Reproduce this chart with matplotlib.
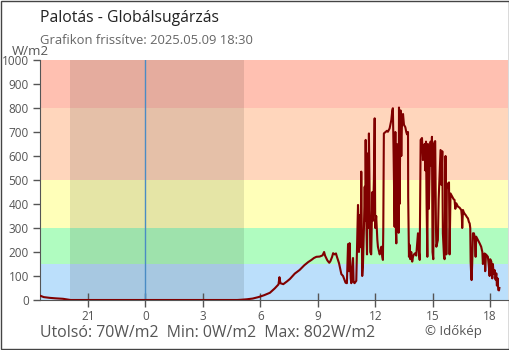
import matplotlib
matplotlib.use("Agg")
import matplotlib.pyplot as plt
from matplotlib.patches import Rectangle

plt.rcParams['font.family'] = ['Open Sans', 'DejaVu Sans']

# hours relative to midnight of 2025.05.09 (negative = previous evening)
hours = [-5.5, -5.3, -5.0, -4.7, -4.3, -4.0, -3.9, 4.8, 5.0, 5.3, 5.6, 5.9, 6.2, 6.5,
         6.75, 6.95, 7.0, 7.05, 7.2, 7.4, 7.55, 7.8, 8.05, 8.3, 8.5, 8.67, 8.8, 8.93,
         9.1, 9.25, 9.33, 9.38, 9.5, 9.6, 9.66, 9.75, 9.8, 9.88, 9.95, 10.0, 10.08,
         10.11, 10.23, 10.32, 10.45, 10.52, 10.58, 10.63, 10.66, 10.72, 10.75, 10.84,
         10.87, 10.92, 11.01, 11.1, 11.15, 11.19, 11.24, 11.27, 11.32, 11.36, 11.41,
         11.45, 11.48, 11.5, 11.53, 11.57, 11.62, 11.65, 11.67, 11.71, 11.74, 11.79,
         11.85, 11.88, 11.93, 11.97, 12.0, 12.05, 12.11, 12.14, 12.23, 12.28, 12.32,
         12.37, 12.4, 12.42, 12.45, 12.54, 12.61, 12.66, 12.75, 12.84, 12.89, 12.92,
         12.96, 13.01, 13.05, 13.08, 13.1, 13.13, 13.19, 13.22, 13.24, 13.27, 13.31,
         13.32, 13.36, 13.39, 13.45, 13.5, 13.57, 13.62, 13.66, 13.71, 13.72, 13.76,
         13.79, 13.83, 13.88, 13.93, 13.97, 14.02, 14.09, 14.14, 14.23, 14.28, 14.32,
         14.37, 14.44, 14.49, 14.52, 14.58, 14.61, 14.65, 14.68, 14.72, 14.75, 14.8,
         14.85, 14.89, 14.92, 14.96, 14.99, 15.03, 15.06, 15.1, 15.13, 15.17, 15.19,
         15.24, 15.27, 15.31, 15.34, 15.38, 15.41, 15.45, 15.5, 15.53, 15.59, 15.62,
         15.67, 15.71, 15.74, 15.79, 15.85, 15.88, 15.93, 15.99, 16.02, 16.09, 16.14,
         16.18, 16.23, 16.32, 16.4, 16.49, 16.52, 16.54, 16.58, 16.61, 16.66, 16.72,
         16.79, 16.84, 16.89, 16.93, 16.96, 16.98, 17.01, 17.03, 17.06, 17.1, 17.15,
         17.2, 17.24, 17.27, 17.36, 17.45, 17.53, 17.59, 17.62, 17.66, 17.71, 17.74,
         17.78, 17.83, 17.88, 17.93, 17.97, 18.0, 18.06, 18.11, 18.14, 18.18, 18.23,
         18.28, 18.32, 18.35, 18.39, 18.42, 18.46, 18.48]
watts = [18, 12, 9, 7, 5, 1, 0, 0, 1, 3, 6, 12, 20, 30,
         48, 65, 95, 70, 66, 78, 88, 110, 125, 145, 158, 167, 175, 180,
         181, 186, 200, 185, 165, 155, 162, 180, 195, 190, 194, 180, 160,
         153, 108, 100, 72, 70, 233, 120, 237, 90, 70, 175,
         75, 70, 80, 396, 200, 354, 220, 535, 100, 150, 300,
         472, 330, 667, 350, 190, 611, 300, 694, 400, 200, 190,
         450, 330, 500, 757, 300, 350, 250, 222, 190, 200, 222,
         180, 167, 300, 694, 700, 705, 701, 715, 750, 790, 799,
         600, 305, 700, 280, 236, 650, 600, 280, 802, 400, 700,
         790, 600, 720, 775, 730, 720, 700, 690, 700, 430, 180,
         230, 170, 200, 160, 180, 190, 195, 185, 278, 200, 167,
         667, 675, 583, 640, 650, 540, 660, 400, 180, 650, 380,
         600, 660, 560, 680, 200, 170, 650, 660, 662, 300, 222,
         240, 250, 420, 480, 549, 625, 480, 620, 278, 180, 170,
         600, 190, 486, 470, 490, 190, 444, 435, 430, 420, 417,
         380, 403, 389, 385, 375, 350, 300, 375, 368, 360, 354,
         345, 340, 325, 319, 300, 160, 100, 83, 150, 278, 278,
         260, 180, 264, 250, 236, 222, 200, 150, 190, 194, 120,
         190, 185, 180, 140, 100, 170, 160, 90, 150, 110, 125,
         85, 111, 60, 90, 42, 40, 50]

bands = [0, 150, 300, 500, 800, 1000]
band_colors = ['#bbdffb', '#b0fcc0', '#ffffb9', '#ffd6bc', '#ffc0b1']
night_start, night_end = -3.95, 5.13
x_ticks = [-3, 0, 3, 6, 9, 12, 15, 18]
x_labels = ['21', '0', '3', '6', '9', '12', '15', '18']

fig = plt.figure(figsize=(5.1, 3.5), dpi=100)
ax = fig.add_axes([40/510, 50/350, 468/510, 240/350])

for lo, hi, c in zip(bands[:-1], bands[1:], band_colors):
    ax.axhspan(lo, hi, color=c, lw=0, zorder=0)
ax.axvspan(night_start, night_end, color='black', alpha=0.1, lw=0, zorder=1)
ax.axvline(0, color='#4a8cc4', lw=1, zorder=2)

ax.plot(hours, watts, color='#800000', lw=1.5, zorder=3)

ax.set_xlim(-5.5, 18.93)
ax.set_ylim(0, 1000)
ax.set_yticks(range(0, 1001, 100))
ax.set_xticks(x_ticks)
ax.set_xticklabels(x_labels)

for s in ['top', 'right']:
    ax.spines[s].set_visible(False)
for s in ['left', 'bottom']:
    ax.spines[s].set_color('#555555')
ax.tick_params(axis='y', direction='out', length=5, width=1, color='#555555',
               labelcolor='#555555', labelsize=8.5, pad=3)
ax.tick_params(axis='x', direction='inout', length=10, width=1, color='#555555',
               labelcolor='#555555', labelsize=8.5, pad=2)

ax.text(-0.061, 1.035, 'W/m2', transform=ax.transAxes, fontsize=9.5,
        color='#555555', va='center', ha='left')

fig.text(40/510, 1 - 18/350, 'Palotás - Globálsugárzás', fontsize=11.3,
         color='#222222', va='center', ha='left')
fig.text(40/510, 1 - 41/350, 'Grafikon frissítve: 2025.05.09 18:30', fontsize=9.4,
         color='#666666', va='center', ha='left')
fig.text(40/510, 1 - 333/350, 'Utolsó: 70W/m2  Min: 0W/m2  Max: 802W/m2',
         fontsize=11.4, color='#555555', va='center', ha='left')
fig.text(482/510, 1 - 331/350, '© Időkép', fontsize=9.5, color='#555555',
         va='center', ha='right')

fig.patches.append(Rectangle((0.001, 0.0015), 0.998, 0.997, transform=fig.transFigure,
                             fill=False, edgecolor='#444444', lw=1))

fig.savefig('out.png', dpi=100)
